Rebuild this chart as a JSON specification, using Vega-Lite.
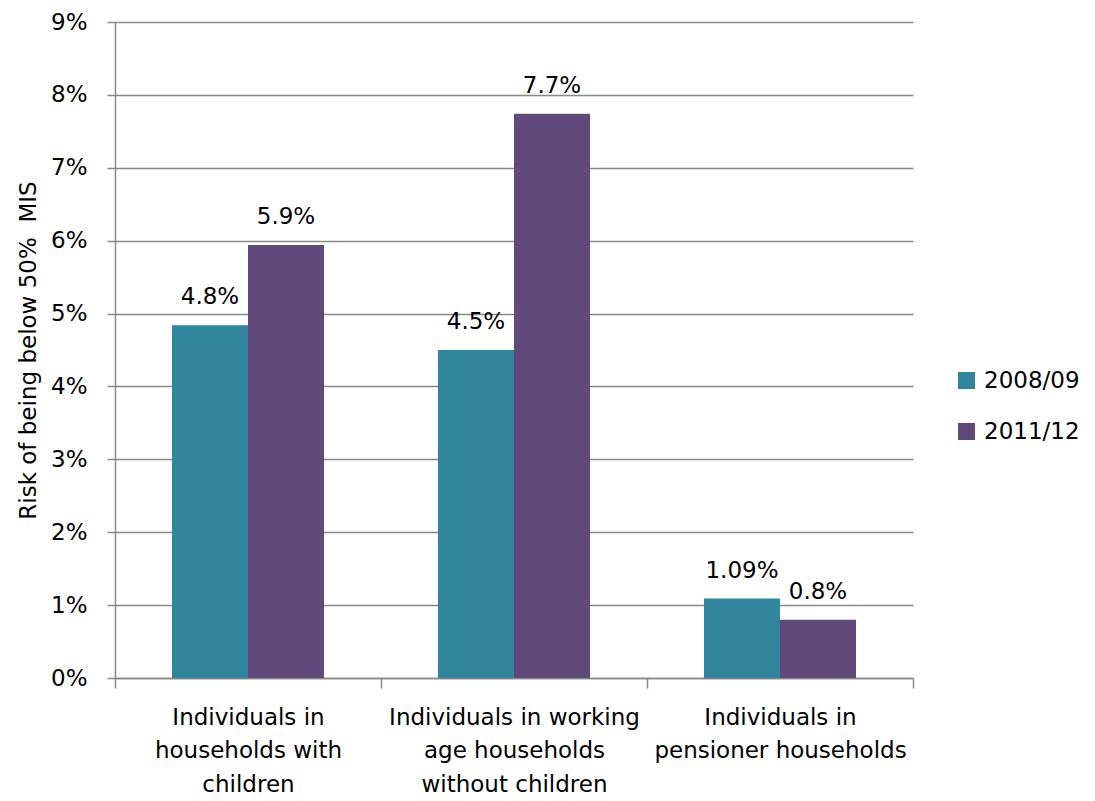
{
  "$schema": "https://vega.github.io/schema/vega-lite/v6.json",
  "autosize": "none",
  "width": 798,
  "height": 656,
  "padding": {"left": 115, "top": 22, "right": 182, "bottom": 123},
  "background": "white",
  "config": {
    "font": "DejaVu Sans",
    "view": {"stroke": null}
  },
  "data": {
    "values": [
      {"category": "Individuals in|households with|children", "order": 1, "year": "2008/09", "value": 4.84, "label": "4.8%"},
      {"category": "Individuals in|households with|children", "order": 1, "year": "2011/12", "value": 5.94, "label": "5.9%"},
      {"category": "Individuals in working|age households|without children", "order": 2, "year": "2008/09", "value": 4.5, "label": "4.5%"},
      {"category": "Individuals in working|age households|without children", "order": 2, "year": "2011/12", "value": 7.74, "label": "7.7%"},
      {"category": "Individuals in|pensioner households", "order": 3, "year": "2008/09", "value": 1.09, "label": "1.09%"},
      {"category": "Individuals in|pensioner households", "order": 3, "year": "2011/12", "value": 0.8, "label": "0.8%"}
    ]
  },
  "encoding": {
    "x": {
      "field": "category",
      "type": "nominal",
      "sort": {"field": "order"},
      "scale": {"paddingInner": 0, "paddingOuter": 0},
      "axis": {
        "title": null,
        "labelAngle": 0,
        "labelExpr": "split(datum.label, '|')",
        "labelFontSize": 23,
        "labelColor": "#000000",
        "labelLineHeight": 33.5,
        "labelPadding": 18,
        "labelBaseline": "top",
        "tickBand": "extent",
        "tickSize": 10,
        "tickColor": "#888888",
        "tickWidth": 1.5,
        "domainColor": "#888888",
        "domainWidth": 1.5,
        "labelLimit": 400
      }
    },
    "xOffset": {
      "field": "year",
      "type": "nominal",
      "scale": {"paddingInner": 0, "paddingOuter": 0.75}
    },
    "y": {
      "field": "value",
      "type": "quantitative",
      "scale": {"domain": [0, 9], "nice": false},
      "axis": {
        "title": "Risk of being below 50%\u00a0 MIS",
        "titleFontSize": 23,
        "titleFontWeight": "normal",
        "titleColor": "#000000",
        "titlePadding": 10,
        "values": [0, 1, 2, 3, 4, 5, 6, 7, 8, 9],
        "labelExpr": "datum.value + '%'",
        "labelFontSize": 23,
        "labelColor": "#000000",
        "labelPadding": 20,
        "tickSize": 8,
        "tickColor": "#888888",
        "tickWidth": 1.5,
        "domainColor": "#888888",
        "domainWidth": 1.5,
        "gridColor": "#888888",
        "gridWidth": 1.5
      }
    }
  },
  "layer": [
    {
      "mark": {"type": "bar"},
      "encoding": {
        "color": {
          "field": "year",
          "type": "nominal",
          "scale": {"domain": ["2008/09", "2011/12"], "range": ["#31859C", "#604A7B"]},
          "legend": {
            "title": null,
            "orient": "none",
            "legendX": 840,
            "legendY": 347,
            "symbolType": "square",
            "symbolSize": 289,
            "symbolStrokeWidth": 0,
            "labelFontSize": 23,
            "labelColor": "#000000",
            "rowPadding": 27,
            "labelOffset": 6
          }
        }
      }
    },
    {
      "mark": {"type": "text", "dy": -28, "fontSize": 23, "color": "#000000"},
      "encoding": {
        "text": {"field": "label"}
      }
    }
  ]
}
